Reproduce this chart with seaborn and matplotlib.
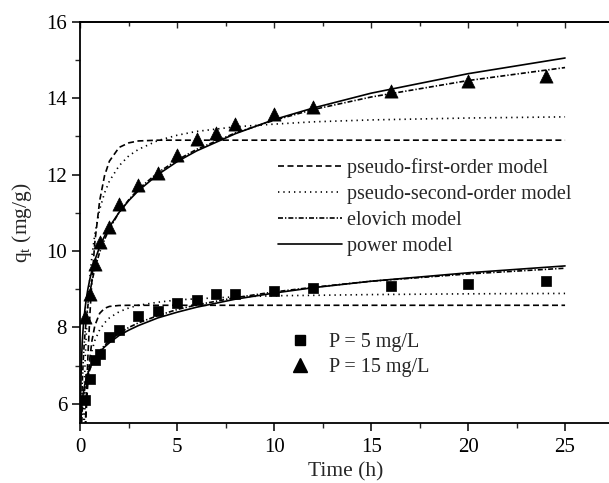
import numpy as np
import pandas as pd
import matplotlib
matplotlib.use("Agg")
import matplotlib.pyplot as plt
from matplotlib.lines import Line2D
from matplotlib.ticker import MultipleLocator
import seaborn as sns

# ---------------- data ----------------
time_exp = [0.25, 0.5, 0.75, 1, 1.5, 2, 3, 4, 5, 6, 7, 8, 10, 12, 16, 20, 24]
q_p5 = [6.10, 6.66, 7.15, 7.31, 7.74, 7.93, 8.31, 8.42, 8.65, 8.72, 8.87, 8.88,
        8.95, 9.04, 9.09, 9.14, 9.21]
q_p15 = [8.27, 8.88, 9.67, 10.24, 10.64, 11.22, 11.72, 12.04, 12.50, 12.92,
         13.08, 13.32, 13.58, 13.76, 14.19, 14.46, 14.58]

time_fit = [0.005, 0.02, 0.05, 0.1, 0.15, 0.2, 0.25, 0.3, 0.35, 0.4, 0.5, 0.6,
            0.75, 1, 1.25, 1.5, 2, 2.5, 3, 4, 5, 6, 8, 10, 12, 15, 20, 25]

# P = 15 mg/L model curves
pfo_p15 = [0.13, 0.53, 1.29, 2.44, 3.49, 4.42, 5.27, 6.03, 6.71, 7.33, 8.39, 9.24,
           10.23, 11.32, 11.97, 12.35, 12.71, 12.83, 12.88, 12.90, 12.90, 12.90,
           12.90, 12.90, 12.90, 12.90, 12.90, 12.90]
pso_p15 = [0.29, 1.10, 2.44, 4.15, 5.40, 6.36, 7.12, 7.73, 8.24, 8.67, 9.35, 9.87,
           10.44, 11.09, 11.52, 11.83, 12.23, 12.49, 12.66, 12.89, 13.03, 13.13,
           13.25, 13.32, 13.38, 13.43, 13.48, 13.51]
elo_p15 = [2.02, 4.10, 5.48, 6.52, 7.12, 7.56, 7.89, 8.16, 8.40, 8.60, 8.93, 9.20,
           9.54, 9.97, 10.30, 10.58, 11.01, 11.34, 11.62, 12.05, 12.38, 12.66,
           13.09, 13.42, 13.70, 14.03, 14.46, 14.80]
pow_p15 = [5.25, 6.23, 6.98, 7.61, 8.00, 8.29, 8.52, 8.71, 8.88, 9.03, 9.28, 9.49,
           9.76, 10.11, 10.39, 10.63, 11.01, 11.32, 11.58, 12.00, 12.34, 12.62,
           13.07, 13.44, 13.74, 14.13, 14.64, 15.05]

# P = 5 mg/L model curves
pfo_p5 = [0.16, 0.61, 1.45, 2.65, 3.65, 4.49, 5.18, 5.75, 6.23, 6.63, 7.23, 7.65,
          8.05, 8.37, 8.50, 8.55, 8.575, 8.58, 8.58, 8.58, 8.58, 8.58, 8.58,
          8.58, 8.58, 8.58, 8.58, 8.58]
pso_p5 = [0.34, 1.23, 2.55, 3.97, 4.87, 5.50, 5.96, 6.31, 6.58, 6.81, 7.15, 7.39,
          7.66, 7.94, 8.12, 8.25, 8.41, 8.51, 8.58, 8.66, 8.72, 8.75, 8.80, 8.83,
          8.84, 8.86, 8.88, 8.89]
elo_p5 = [3.81, 4.74, 5.36, 5.83, 6.10, 6.30, 6.45, 6.57, 6.67, 6.76, 6.91, 7.04,
          7.19, 7.38, 7.53, 7.65, 7.85, 8.00, 8.12, 8.31, 8.47, 8.59, 8.78, 8.93,
          9.05, 9.21, 9.40, 9.55]
pow_p5 = [4.73, 5.31, 5.73, 6.07, 6.28, 6.43, 6.55, 6.65, 6.73, 6.81, 6.94, 7.04,
          7.18, 7.35, 7.49, 7.60, 7.79, 7.93, 8.05, 8.25, 8.40, 8.53, 8.74, 8.90,
          9.04, 9.21, 9.43, 9.61]

model_names = ["pseudo-first-order model", "pseudo-second-order model",
               "elovich model", "power model"]
series_labels = ["P = 5 mg/L", "P = 15 mg/L"]
x_ticks = [0, 5, 10, 15, 20, 25]
y_ticks = [6, 8, 10, 12, 14, 16]

# ---------------- style ----------------
sns.set_theme(style="ticks")
plt.rcParams["font.family"] = ["Liberation Serif", "DejaVu Serif"]
plt.rcParams["mathtext.fontset"] = "custom"
plt.rcParams["mathtext.rm"] = "Liberation Serif"
plt.rcParams["mathtext.it"] = "Liberation Serif:italic"
plt.rcParams["axes.linewidth"] = 1.3

LW = 1.2
styles = {
    "pseudo-first-order model": (0, (3.6, 2.1)),
    "pseudo-second-order model": (0, (0.8, 2.4)),
    "elovich model": (0, (3.0, 1.2, 0.8, 1.2)),
    "power model": "-",
}

W, H = 609, 483
fig = plt.figure(figsize=(W / 100, H / 100), dpi=100)
x0, x1 = 80.3, 611.0
yt, yb = 21.7, 423.0
ax = fig.add_axes([x0 / W, 1 - yb / H, (x1 - x0) / W, (yb - yt) / H])

curves = [
    (pfo_p5, pfo_p15, model_names[0]),
    (pso_p5, pso_p15, model_names[1]),
    (elo_p5, elo_p15, model_names[2]),
    (pow_p5, pow_p15, model_names[3]),
]
for c5, c15, name in curves:
    for vals in (c5, c15):
        df = pd.DataFrame({"t": time_fit, "q": vals})
        sns.lineplot(data=df, x="t", y="q", ax=ax, color="black", lw=LW,
                     linestyle=styles[name], sort=False, estimator=None)

df5 = pd.DataFrame({"t": time_exp, "q": q_p5})
df15 = pd.DataFrame({"t": time_exp, "q": q_p15})
sns.scatterplot(data=df5, x="t", y="q", ax=ax, marker="s", s=58,
                color="black", edgecolor="black", linewidth=0.5, zorder=5)
sns.scatterplot(data=df15, x="t", y="q", ax=ax, marker="^", s=90,
                color="black", edgecolor="black", linewidth=0.5, zorder=5)

ax.set_xlim(0, (x1 - x0) / 19.39)
ax.set_ylim(5.5, 16)
ax.set_xticks(x_ticks)
ax.set_yticks(y_ticks)
ax.xaxis.set_minor_locator(MultipleLocator(2.5))
ax.yaxis.set_minor_locator(MultipleLocator(1))
ax.tick_params(axis="both", which="major", direction="out", length=5.5,
               width=1.1, labelsize=15, pad=4, colors="black")
ax.tick_params(axis="both", which="minor", direction="out", length=3.5,
               width=1.0)
ax.tick_params(axis="x", which="major", pad=5)
for s in ax.spines.values():
    s.set_color("black")

# inward ticks on the top spine, without labels
top = ax.secondary_xaxis("top")
top.set_xticks(x_ticks)
top.xaxis.set_minor_locator(MultipleLocator(2.5))
top.tick_params(which="major", direction="in", length=4, width=1.0,
                labeltop=False)
top.tick_params(which="minor", direction="in", length=3, width=1.0)
top.spines["top"].set_linewidth(1.3)

ax.set_xlabel("Time (h)", fontsize=15.5, labelpad=4)
ax.set_ylabel(r"q$_\mathregular{t}$ (mg/g)", fontsize=15.5, labelpad=9)

# legends
h_lines = [Line2D([0], [0], color="black", lw=LW, linestyle=styles[n])
           for n in model_names]
leg1 = fig.legend(h_lines, model_names, loc="upper left",
                  bbox_to_anchor=(278 / W, 1 - 158 / H), frameon=False,
                  fontsize=14.5, handlelength=3.2, handletextpad=0.25,
                  labelspacing=0.34, borderpad=0, borderaxespad=0)
h_marks = [Line2D([0], [0], color="black", marker="s", ls="none", ms=7.8),
           Line2D([0], [0], color="black", marker="^", ls="none", ms=9.5)]
leg2 = fig.legend(h_marks, series_labels, loc="upper left",
                  bbox_to_anchor=(290 / W, 1 - 333 / H), frameon=False,
                  fontsize=14.5, handlelength=1.0, handletextpad=0.95,
                  labelspacing=0.28, borderpad=0, borderaxespad=0)

fig.savefig("out.png", dpi=100)
